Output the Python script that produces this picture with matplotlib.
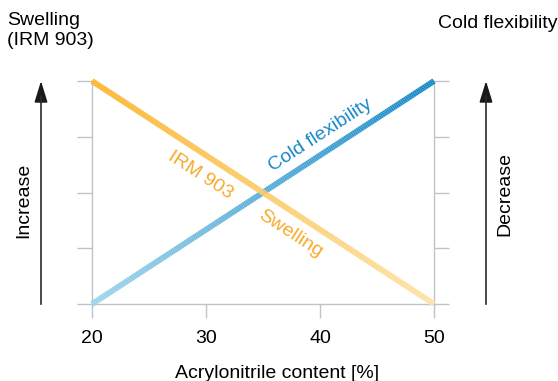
import numpy as np
import matplotlib
matplotlib.use('Agg')
import matplotlib.pyplot as plt
from matplotlib.collections import LineCollection
from matplotlib.colors import LinearSegmentedColormap

plt.rcParams['font.family'] = ['Liberation Sans', 'DejaVu Sans']

# data
acrylonitrile = [20, 50]          # x range [%]
swelling = [4, 0]                 # relative level (IRM 903)
cold_flex = [0, 4]                # relative level
x_ticks = [20, 30, 40, 50]
y_ticks = [0, 1, 2, 3, 4]

grey = '#bfc3c7'
orange_text = '#f7ab2a'
blue_text = '#1b8ac8'
orange_cmap = LinearSegmentedColormap.from_list('o', ['#fbb52e', '#fde3a8'])
blue_cmap = LinearSegmentedColormap.from_list('b', ['#9fd4ea', '#1689c8'])
fs = 14

fig = plt.figure(figsize=(5.58, 3.81), dpi=100)
ax = fig.add_axes([92 / 558, 1 - 304 / 381, (434 - 92) / 558, (304 - 81) / 381])


def gradient_line(xs, ys, cmap, z):
    # split the straight line into short pieces only to shade it
    t = np.linspace(0, 1, 200)
    px = xs[0] + (xs[1] - xs[0]) * t
    py = ys[0] + (ys[1] - ys[0]) * t
    pts = np.column_stack([px, py]).reshape(-1, 1, 2)
    segs = np.concatenate([pts[:-1], pts[1:]], axis=1)
    lc = LineCollection(segs, cmap=cmap, linewidths=4.2, capstyle='butt',
                        zorder=z, clip_on=False)
    lc.set_array(t[:-1])
    ax.add_collection(lc)


gradient_line(acrylonitrile, cold_flex, blue_cmap, 3)
gradient_line(acrylonitrile, swelling, orange_cmap, 4)

ax.set_xlim(20, 50)
ax.set_ylim(0, 4)
ax.set_xticks(x_ticks)
ax.set_yticks(y_ticks)
ax.set_yticklabels([])
ax.tick_params(axis='x', direction='out', length=10, width=1, color=grey,
               labelsize=fs, pad=9)
ax.tick_params(axis='y', direction='out', length=10.5, width=1, color=grey,
               left=True, right=True)
for side in ['left', 'right', 'bottom']:
    ax.spines[side].set_color(grey)
    ax.spines[side].set_linewidth(1)
ax.spines['top'].set_visible(False)
ax.set_xlabel('Acrylonitrile content [%]', fontsize=fs)
ax.xaxis.set_label_coords(0.54, -0.275)

# labels along the lines
ax.text(40.0, 3.03, 'Cold flexibility', color=blue_text, fontsize=fs,
        rotation=33, ha='center', va='center', rotation_mode='anchor')
ax.text(29.5, 2.3, 'IRM 903', color=orange_text, fontsize=fs,
        rotation=-33, ha='center', va='center', rotation_mode='anchor')
ax.text(37.4, 1.26, 'Swelling', color=orange_text, fontsize=fs,
        rotation=-33, ha='center', va='center', rotation_mode='anchor')

# side arrows and captions
for xa in [41 / 558, 486 / 558]:
    fig.add_artist(plt.Line2D([xa, xa], [1 - 304 / 381, 1 - 96 / 381],
                              color='#2b2b2b', lw=1.2))
    ax.annotate('', xy=(xa, 1 - 81 / 381), xytext=(xa, 1 - 102 / 381),
                xycoords='figure fraction', textcoords='figure fraction',
                arrowprops=dict(arrowstyle='-|>,head_length=1.3,head_width=0.4',
                                color='#1a1a1a', lw=1.2, shrinkA=0, shrinkB=0))

fig.text(24 / 558, 1 - 200 / 381, 'Increase', rotation=90, fontsize=fs,
         ha='center', va='center')
fig.text(505 / 558, 1 - 194 / 381, 'Decrease', rotation=90, fontsize=fs,
         ha='center', va='center')
fig.text(7 / 558, 1 - 12 / 381, 'Swelling\n(IRM 903)', fontsize=fs,
         ha='left', va='top', linespacing=1.2)
fig.text(557 / 558, 1 - 15 / 381, 'Cold flexibility', fontsize=fs,
         ha='right', va='top')

fig.savefig('out.png', dpi=100)
